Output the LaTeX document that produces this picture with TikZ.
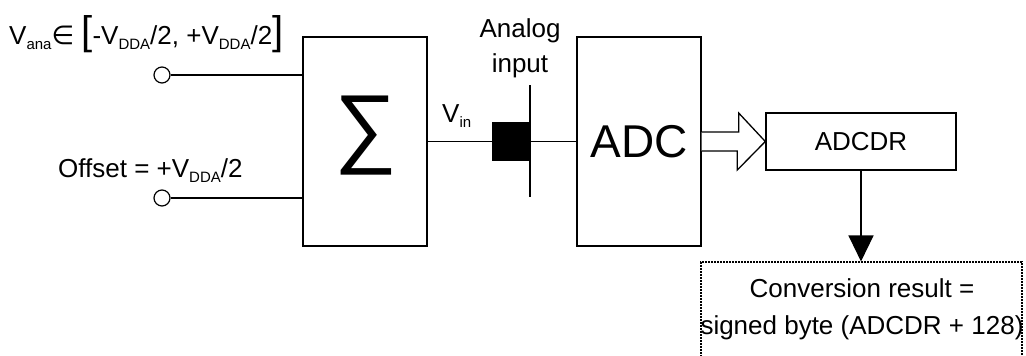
\documentclass[tikz,border=0pt]{standalone}
\usepackage{fontspec}
\setmainfont{Liberation Sans}
\newfontfamily\dejavu{DejaVu Sans}
\usetikzlibrary{arrows.meta,calc}
\newcommand\mysub[1]{\raisebox{-5pt}{\fontsize{15}{15}\selectfont #1}}
\newcommand\bigbr[1]{{\fontsize{40}{40}\selectfont #1}}
\begin{document}
\begin{tikzpicture}[x=1pt,y=-1pt,
  blk/.style={draw, line width=1.4pt, inner sep=0pt},
  wire/.style={line width=1.3pt},
  lbl/.style={font=\fontsize{26}{35}\selectfont, inner sep=0pt},
  term/.style={circle, draw, line width=1.2pt, minimum size=16pt, inner sep=0pt, fill=white},
  hollow/.style={line width=1.3pt, fill=white, line join=miter}]
\useasboundingbox (0,0) rectangle (1026,356);

% blocks
\node[blk, minimum width=124pt, minimum height=209pt] (sum) at (365,141.5) {};
\node[font=\fontsize{88}{88}\selectfont, inner sep=0pt] (sig) at (366,136) {∑};
\node[blk, minimum width=124pt, minimum height=209pt, font=\fontsize{46}{46}\selectfont] (adc) at (639,141.5) {ADC};
\node[blk, minimum width=190pt, minimum height=57pt, font=\fontsize{26}{26}\selectfont] (dr) at (861,141.5) {ADCDR};
\node[draw, line width=1.1pt, dash pattern=on 2pt off 1pt, minimum width=321pt, minimum height=120pt, inner sep=0pt] (res) at (861.5,322) {};
\node[lbl, align=center, font=\fontsize{26}{37}\selectfont] (restext) at (862,309) {Conversion result =\\signed byte (ADCDR + 128)};

% input terminals
\node[term] (in1) at (162,75) {};
\node[term] (in2) at (162,198) {};
\draw[wire] (in1) -- (in1 -| sum.west);
\draw[wire] (in2) -- (in2 -| sum.west);

% Vin line and pin
\draw[wire] (sum.east) -- (adc.west);
\node[fill=black, minimum width=38pt, minimum height=39pt, inner sep=0pt] (pin) at (511,141.5) {};
\coordinate (pt) at (530,85);
\coordinate (pb) at (530,197);
\draw[wire] (pt) -- (pb);

% hollow bus arrow
\draw[hollow] ($(adc.east)+(0,-9.5)$) -- ++(37,0) -- ++(0,-19) -- (dr.west) -- ++(-28,28.5) -- ++(0,-19) -- ($(adc.east)+(0,9.5)$);

% result arrow
\draw[wire, -{Triangle[length=26pt,width=25pt]}] (dr.south) -- (dr.south |- res.north);

% labels
\node[lbl, anchor=base west] (vana) at (9,45) {V\mysub{ana}{\dejavu ∈} \bigbr{[}-V\mysub{DDA}/2, +V\mysub{DDA}/2\bigbr{]}};
\node[lbl, anchor=base west] (off) at (58,177) {Offset = +V\mysub{DDA}/2};
\node[lbl, align=center] (ain) at (520,48) {Analog\\input};
\node[lbl, anchor=base west] (vin) at (442,122) {V\mysub{in}};
\end{tikzpicture}
\end{document}
